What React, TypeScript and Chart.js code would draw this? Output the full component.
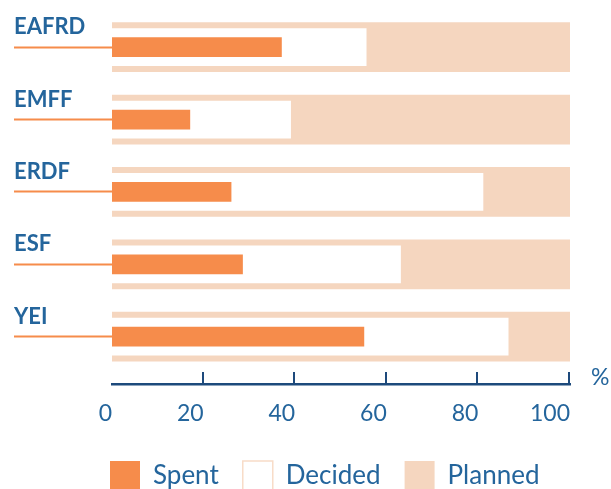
import React, { useEffect, useRef } from 'react';
import { Chart, registerables } from 'chart.js';

Chart.register(...registerables);

const categories = ['EAFRD', 'EMFF', 'ERDF', 'ESF', 'YEI'];
const spent = [37, 17, 26, 28.5, 55];
const decided = [55.5, 39, 81, 63, 86.5];
const planned = [100, 100, 100, 100, 100];
const seriesLabels = ['Spent', 'Decided', 'Planned'];
const xMin = 0;
const xMax = 100;
const xStep = 20;
const axisUnit = '%';

const ORANGE = '#f68c4b';
const PEACH = '#f5d6bf';
const PEACH_EDGE = '#f8dcc8';
const BLUE = '#24659c';
const NAVY = '#1d4a7c';

const decorPlugin = {
  id: 'decor',
  afterLayout(chart: any) {
    const lg = chart.legend;
    if (!lg) return;
    const pad = lg.options.labels.padding;
    const w = lg.right - lg.left;
    lg.left = chart.chartArea.left - 2 - pad;
    lg.right = lg.left + w;
  },
  afterDraw(chart: any) {
    const xs = chart.scales.x;
    const ctx = chart.ctx;
    const { bottom, right } = chart.chartArea;
    ctx.save();
    ctx.strokeStyle = NAVY;
    ctx.lineWidth = 2;
    xs.ticks.forEach((t: any) => {
      if (t.value <= xs.min) return;
      const px = Math.round(xs.getPixelForValue(t.value)) - 1;
      ctx.beginPath();
      ctx.moveTo(px, bottom - 12);
      ctx.lineTo(px, bottom);
      ctx.stroke();
    });
    ctx.fillStyle = BLUE;
    ctx.font = '23px Lato';
    ctx.textAlign = 'left';
    ctx.textBaseline = 'alphabetic';
    ctx.fillText(axisUnit, right + 21, bottom + 1);
    ctx.restore();
  },
};

export default function App() {
  const ref = useRef<HTMLCanvasElement | null>(null);

  useEffect(() => {
    document.body.style.margin = '0';
    if (!ref.current) return;
    Chart.defaults.font.family = 'Lato';
    const mk = (vals: number[]) => vals.map((v, i) => ({ x: v, y: i }));
    const chart = new Chart(ref.current, {
      type: 'bar',
      data: {
        datasets: [
          {
            label: seriesLabels[0],
            data: mk(spent),
            backgroundColor: ORANGE,
            borderWidth: 0,
            barThickness: 19,
            grouped: false,
          } as any,
          {
            label: seriesLabels[1],
            data: mk(decided),
            backgroundColor: '#ffffff',
            borderWidth: 0,
            barThickness: 37,
            grouped: false,
          },
          {
            label: seriesLabels[2],
            data: mk(planned),
            backgroundColor: PEACH,
            borderWidth: 0,
            barThickness: 49,
            grouped: false,
          },
        ],
      },
      plugins: [decorPlugin],
      options: {
        indexAxis: 'y',
        animation: false,
        responsive: true,
        maintainAspectRatio: false,
        events: [],
        layout: { padding: { left: 14, right: 41, top: 11, bottom: -12 } },
        scales: {
          x: {
            type: 'linear',
            min: xMin,
            max: xMax,
            ticks: {
              stepSize: xStep,
              align: 'end',
              padding: 16,
              color: BLUE,
              font: { size: 23 },
            },
            grid: { display: false, drawOnChartArea: false, drawTicks: false },
            border: { display: true, color: NAVY, width: 2.5 },
            afterFit: (s: any) => {
              s.height = 53;
            },
          },
          y: {
            type: 'linear',
            reverse: true,
            offset: false,
            min: -0.5,
            max: 4.654,
            afterBuildTicks: (s: any) => {
              s.ticks = categories.map((_, i) => ({ value: i }));
            },
            ticks: {
              autoSkip: false,
              crossAlign: 'far',
              labelOffset: -20,
              color: BLUE,
              font: { size: 22, weight: 'bold' },
              callback: (v: any) => categories[v] ?? '',
            },
            grid: {
              offset: false,
              drawOnChartArea: false,
              drawTicks: true,
              tickLength: 98,
              tickColor: ORANGE,
              tickWidth: 2,
            },
            border: { display: false },
            afterFit: (s: any) => {
              s.width = 98;
              s.paddingTop = 0;
              s.paddingBottom = 0;
            },
          },
        },
        plugins: {
          tooltip: { enabled: false },
          legend: {
            position: 'bottom',
            align: 'start',
            labels: {
              boxWidth: 30,
              boxHeight: 30,
              padding: 24,
              color: BLUE,
              font: { size: 26 },
              generateLabels: (c: any) => {
                const items = (Chart.defaults.plugins.legend.labels as any).generateLabels(c);
                return items.map((it: any, i: number) =>
                  i === 1
                    ? { ...it, strokeStyle: PEACH_EDGE, lineWidth: 1.5 }
                    : { ...it, lineWidth: 0 }
                );
              },
            },
          },
        },
      } as any,
    });
    return () => chart.destroy();
  }, []);

  return (
    <div style={{ width: 611, height: 489, position: 'relative' }}>
      <canvas ref={ref} />
    </div>
  );
}
